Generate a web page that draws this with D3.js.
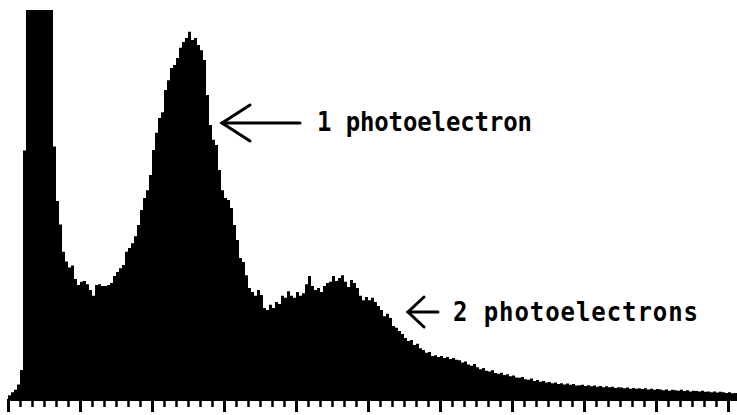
<!DOCTYPE html>
<html lang="en">
<head>
<meta charset="utf-8">
<title>Photoelectron spectrum</title>
<script src="https://cdn.jsdelivr.net/npm/d3@7"></script>
<style>
  body { margin: 0; background: #fff; }
  .label { font-family: "DejaVu Sans Mono", monospace; font-weight: bold; font-size: 24px; fill: #000; }
</style>
</head>
<body>
<script>

// counts per channel bin (pedestal bins are off scale and get clipped at the top)
var counts = [
  12, 20, 26, 40, 77, 640,
  1800, 2900, 3700, 4000, 3600, 2900, 2200, 1600, 1150,
  650, 510, 450, 380, 355, 340, 345, 310, 295, 303, 305, 297, 282, 267, 295,
  297, 292, 292, 295, 300, 318, 328, 338, 346, 380, 390, 402, 420, 449, 487,
  518, 538, 577, 641, 685, 723, 738, 795, 820, 851, 859, 877, 903, 918, 928,
  944, 923, 928, 910, 897, 872, 782, 705, 667, 654, 590, 538, 518, 513, 492,
  449, 410, 364, 354, 320, 287, 277, 267, 282, 269, 236, 231, 244, 236, 251,
  246, 267, 262, 279, 267, 262, 277, 267, 274, 297, 318, 292, 282, 287, 277,
  292, 300, 303, 318, 305, 313, 320, 303, 290, 308, 300, 287, 267, 256, 264,
  256, 262, 251, 241, 231, 215, 221, 210, 190, 185, 177, 169, 159, 151, 154,
  141, 144, 133, 128, 121, 123, 113, 115, 110, 113, 108, 110, 105, 108, 103,
  102, 96, 99, 91, 88, 92, 84, 79, 82, 75, 73, 76, 69, 67, 70,
  64, 66, 61, 63, 58, 57, 59, 53, 52, 55, 49, 51, 47, 49, 45,
  46, 43, 45, 41, 43, 40, 42, 39, 41, 37, 38, 39, 36, 38, 35,
  37, 34, 36, 33, 35, 33, 34, 31, 33, 32, 30, 32, 29, 31, 29,
  30, 28, 30, 27, 29, 26, 28, 27, 25, 27, 24, 26, 25, 24, 26,
  23, 25, 22, 24, 23, 22, 24, 21, 22, 20, 22, 19, 21, 20, 18,
  20, 17, 18
];

var minorTicks = d3.range(0, counts.length, 4);
var majorTicks = d3.range(0, counts.length, 24);

var labels = ["1 photoelectron", "2 photoelectrons"];

var width = 737, height = 415;

var svg = d3.select("body").append("svg")
    .attr("width", width)
    .attr("height", height);

var x = d3.scaleLinear().domain([0, counts.length]).range([8, 737]);
var y = d3.scaleLinear().domain([0, 1000]).range([400, 10]).clamp(true);

// histogram as one stepped area so there are no seams between bins
var pts = counts.map(function(d, i) { return [i, d]; });
pts.push([counts.length, counts[counts.length - 1]]);

var area = d3.area()
    .curve(d3.curveStepAfter)
    .x(function(d) { return x(d[0]); })
    .y0(y(0))
    .y1(function(d) { return y(d[1]); });

svg.append("path")
    .datum(pts)
    .attr("d", area)
    .attr("fill", "#000");

// axis: baseline plus minor and major ticks
var axisG = svg.append("g").attr("transform", "translate(0," + 399 + ")");

axisG.append("g")
    .call(d3.axisBottom(x).tickValues(minorTicks).tickSize(8).tickSizeOuter(0).tickFormat(""))
    .call(function(g) {
      g.select(".domain").attr("stroke-width", 3);
      g.selectAll(".tick line").attr("stroke-width", 2.5);
    });

axisG.append("g")
    .call(d3.axisBottom(x).tickValues(majorTicks).tickSize(13).tickSizeOuter(0).tickFormat(""))
    .call(function(g) {
      g.select(".domain").remove();
      g.selectAll(".tick line").attr("stroke-width", 3);
    });

// annotations
var arrow1 = {tip: [222, 123], tail: 300, back: 28, spread: 18};
var arrow2 = {tip: [408, 312], tail: 438, back: 16, spread: 15};

function drawArrow(a) {
  var g = svg.append("g")
      .attr("stroke", "#000")
      .attr("stroke-width", 3)
      .attr("stroke-linecap", "round")
      .attr("fill", "none");
  g.append("line")
      .attr("x1", a.tip[0]).attr("y1", a.tip[1])
      .attr("x2", a.tail).attr("y2", a.tip[1]);
  g.append("path")
      .attr("d", "M" + (a.tip[0] + a.back) + "," + (a.tip[1] - a.spread) +
                 "L" + a.tip[0] + "," + a.tip[1] +
                 "L" + (a.tip[0] + a.back) + "," + (a.tip[1] + a.spread));
}

drawArrow(arrow1);
drawArrow(arrow2);

// typewriter labels, a little taller than the font's own proportions
function label(txt, lx, ly, len) {
  svg.append("text").attr("class", "label")
      .attr("transform", "translate(" + lx + "," + ly + ") scale(1,1.12)")
      .attr("textLength", len)
      .attr("lengthAdjust", "spacing")
      .text(txt);
}

label(labels[0], 317, 131, 215);
label(labels[1], 453, 321, 245);

</script>
</body>
</html>
